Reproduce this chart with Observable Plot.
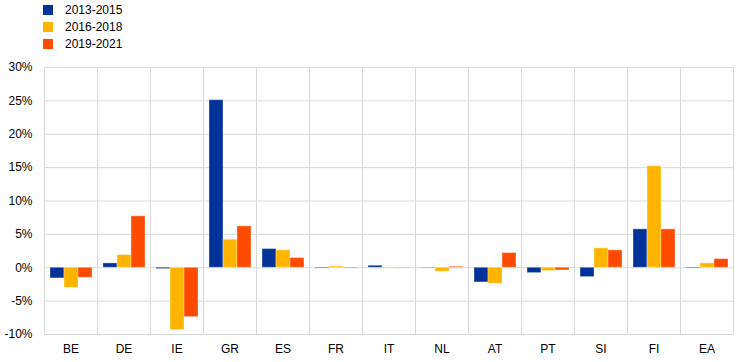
<!DOCTYPE html>
<html>
<head>
<meta charset="utf-8">
<script src="https://cdn.jsdelivr.net/npm/d3@7"></script>
<script src="https://cdn.jsdelivr.net/npm/@observablehq/plot@0.6"></script>
<style>
  body { margin: 0; background: #fff; font-family: "Liberation Sans", Arial, sans-serif; }
  #legend { height: 52px; padding-left: 43px; box-sizing: border-box; padding-top: 1px; }
  .item { display: flex; align-items: center; height: 17px; font-size: 12px; color: #000; }
  .sw { width: 10px; height: 10px; margin-right: 12px; }
</style>
</head>
<body>
<div id="legend"></div>
<div id="chart"></div>
<script>
const countries = ["BE","DE","IE","GR","ES","FR","IT","NL","AT","PT","SI","FI","EA"];
const seriesNames = ["2013-2015","2016-2018","2019-2021"];
const v2013_2015 = [-1.6, 0.65, -0.2, 25.1, 2.8, -0.1, 0.3, -0.05, -2.2, -0.8, -1.4, 5.75, -0.1];
const v2016_2018 = [-3.0, 1.9, -9.35, 4.2, 2.6, 0.2, 0.05, -0.6, -2.4, -0.5, 2.9, 15.2, 0.65];
const v2019_2021 = [-1.5, 7.7, -7.4, 6.2, 1.45, -0.1, 0.05, 0.15, 2.2, -0.4, 2.6, 5.75, 1.3];
const yTicks = [-10, -5, 0, 5, 10, 15, 20, 25, 30];
const colors = ["#003299", "#ffb400", "#ff4b00"];

const seriesValues = [v2013_2015, v2016_2018, v2019_2021];
const data = [];
countries.forEach((c, i) => {
  seriesNames.forEach((s, j) => data.push({country: c, series: s, value: seriesValues[j][i]}));
});

const legend = document.getElementById("legend");
seriesNames.forEach((s, j) => {
  const d = document.createElement("div");
  d.className = "item";
  d.innerHTML = `<span class="sw" style="background:${colors[j]}"></span><span>${s}</span>`;
  legend.appendChild(d);
});

const chart = Plot.plot({
  width: 744,
  height: 310,
  marginTop: 15,
  marginBottom: 28,
  marginLeft: 43,
  marginRight: 11,
  style: {fontFamily: "'Liberation Sans', Arial, sans-serif", fontSize: "12px", color: "#000"},
  fx: {domain: countries, padding: 0, label: null, axis: "bottom", tickSize: 0, tickPadding: 10},
  x: {domain: seriesNames, paddingInner: 0, paddingOuter: 0.27, axis: null},
  y: {domain: [-10, 30], ticks: yTicks, tickFormat: d => `${d}%`, label: null, tickSize: 0, tickPadding: 12},
  color: {domain: seriesNames, range: colors},
  marks: [
    Plot.gridY(yTicks, {stroke: "#d9d9d9", strokeOpacity: 1, strokeWidth: 1}),
    Plot.frame({stroke: "#d9d9d9", strokeWidth: 1}),
    Plot.barY(data, {fx: "country", x: "series", y: "value", fill: "series", stroke: "#ffffff", strokeOpacity: 0.35, strokeWidth: 1}),
    Plot.axisY({ticks: yTicks, tickFormat: d => `${d}%`, tickSize: 0, tickPadding: 12, label: null})
  ]
});
document.getElementById("chart").appendChild(chart);
</script>
</body>
</html>
